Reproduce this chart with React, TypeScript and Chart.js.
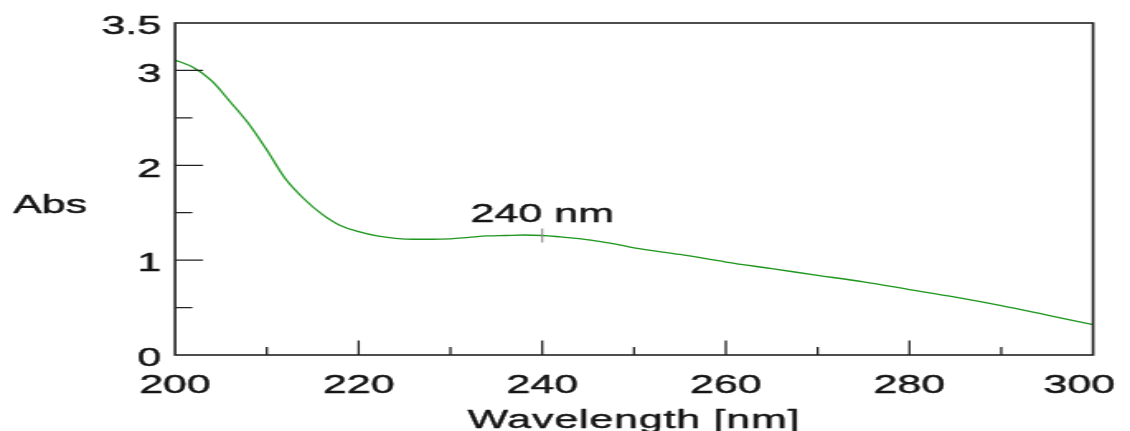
import React, { useEffect, useRef } from 'react';
import { Chart, registerables } from 'chart.js';

Chart.register(...registerables);

// ---- data ----
const wavelengths = [
  200, 202, 204, 206, 208, 210, 212, 214, 216, 218, 220, 222, 224, 226, 228, 230,
  232, 234, 236, 238, 240, 242, 244, 246, 248, 250, 255, 260, 265, 270, 275, 280,
  285, 290, 295, 300,
];
const absorbance = [
  3.11, 3.03, 2.89, 2.67, 2.44, 2.16, 1.86, 1.65, 1.485, 1.365, 1.3, 1.255, 1.23, 1.22, 1.22, 1.225,
  1.24, 1.255, 1.26, 1.265, 1.26, 1.245, 1.228, 1.2, 1.17, 1.13, 1.06, 0.98, 0.91, 0.84, 0.77, 0.69,
  0.61, 0.52, 0.42, 0.32,
];
const xTickLabels = [200, 220, 240, 260, 280, 300];
const xMinorTicks = [210, 230, 250, 270, 290];
const yTickLabels = [0, 1, 2, 3, 3.5];
const yMajorTicks = [1, 2, 3];
const yMinorTicks = [0.5, 1.5, 2.5];
const peakWavelength = 240;
const peakLabel = '240 nm';
const xTitle = 'Wavelength [nm]';
const yTitle = 'Abs';

// internal drawing size; canvas is stretched horizontally to 1130px like the reference
const W = 685;
const H = 431;
const CSS_W = 1130;

const FONT = '26px "Liberation Sans", Arial, sans-serif';
const INK = '#151515';

function drawText(ctx: CanvasRenderingContext2D, t: string, x: number, y: number) {
  ctx.strokeText(t, x, y);
  ctx.fillText(t, x, y);
}

const framePlugin = {
  id: 'frameAndLabels',
  afterDraw(chart: any) {
    const ctx = chart.ctx as CanvasRenderingContext2D;
    const { left, right, top, bottom } = chart.chartArea;
    const xs = chart.scales.x;
    const ys = chart.scales.y;
    ctx.save();

    // frame
    ctx.strokeStyle = '#222';
    ctx.lineWidth = 1.6;
    ctx.strokeRect(left, top, right - left, bottom - top);

    // inward ticks
    ctx.lineWidth = 1.3;
    ctx.beginPath();
    yMajorTicks.forEach((v) => {
      const py = ys.getPixelForValue(v);
      ctx.moveTo(left, py);
      ctx.lineTo(left + 17, py);
    });
    yMinorTicks.forEach((v) => {
      const py = ys.getPixelForValue(v);
      ctx.moveTo(left, py);
      ctx.lineTo(left + 10.5, py);
    });
    xTickLabels.forEach((v) => {
      if (v === xs.min || v === xs.max) return;
      const px = xs.getPixelForValue(v);
      ctx.moveTo(px, bottom);
      ctx.lineTo(px, bottom - 14.5);
    });
    xMinorTicks.forEach((v) => {
      const px = xs.getPixelForValue(v);
      ctx.moveTo(px, bottom);
      ctx.lineTo(px, bottom - 8);
    });
    ctx.stroke();

    // tick labels
    ctx.font = FONT;
    ctx.fillStyle = INK;
    ctx.strokeStyle = INK;
    ctx.lineWidth = 0.45;
    ctx.lineJoin = 'round';
    ctx.textBaseline = 'alphabetic';
    ctx.textAlign = 'right';
    yTickLabels.forEach((v) => {
      const py = ys.getPixelForValue(v);
      drawText(ctx, String(v), left - 8.5, py + 11.3);
    });
    ctx.textAlign = 'center';
    xTickLabels.forEach((v) => {
      const t = String(v);
      const w = ctx.measureText(t).width;
      let px = xs.getPixelForValue(v);
      px = Math.min(px, W - 9 - w / 2);
      drawText(ctx, t, px, bottom + 38);
    });

    // axis titles
    (ctx as any).letterSpacing = '0.5px';
    drawText(ctx, xTitle, (left + right) / 2, bottom + 73);
    (ctx as any).letterSpacing = '0px';
    ctx.textAlign = 'left';
    drawText(ctx, yTitle, 8, 213);

    // peak marker
    const idx = wavelengths.indexOf(peakWavelength);
    const pX = xs.getPixelForValue(peakWavelength);
    const pY = ys.getPixelForValue(absorbance[idx]);
    ctx.strokeStyle = '#8a8a8a';
    ctx.lineWidth = 1.1;
    ctx.beginPath();
    ctx.moveTo(pX, pY - 7);
    ctx.lineTo(pX, pY + 7);
    ctx.stroke();
    ctx.textAlign = 'center';
    ctx.fillStyle = INK;
    ctx.strokeStyle = INK;
    ctx.lineWidth = 0.45;
    drawText(ctx, peakLabel, pX, pY - 13);

    ctx.restore();
  },
};

export default function App() {
  const ref = useRef<HTMLCanvasElement | null>(null);

  useEffect(() => {
    document.body.style.margin = '0';
    const canvas = ref.current;
    if (!canvas) return;
    const chart = new Chart(canvas, {
      type: 'line',
      data: {
        datasets: [
          {
            data: wavelengths.map((x, i) => ({ x, y: absorbance[i] })),
            borderColor: 'rgb(30,150,30)',
            borderWidth: 1.3,
            pointRadius: 0,
            cubicInterpolationMode: 'monotone',
            fill: false,
          },
        ],
      },
      options: {
        responsive: false,
        animation: false,
        devicePixelRatio: 1,
        layout: { padding: { top: 23, right: 22.4, left: 0, bottom: 0 } },
        plugins: { legend: { display: false }, tooltip: { enabled: false } },
        scales: {
          x: {
            type: 'linear',
            min: 200,
            max: 300,
            ticks: { display: false },
            grid: { display: false, drawTicks: false },
            border: { display: false },
            afterFit: (s: any) => {
              s.height = H - 355;
            },
          },
          y: {
            type: 'linear',
            min: 0,
            max: 3.5,
            ticks: { display: false },
            grid: { display: false, drawTicks: false },
            border: { display: false },
            afterFit: (s: any) => {
              s.width = 106.1;
            },
          },
        },
      },
      plugins: [framePlugin],
    } as any);
    return () => chart.destroy();
  }, []);

  return (
    <canvas
      ref={ref}
      width={W}
      height={H}
      style={{ display: 'block', width: CSS_W + 'px', height: H + 'px' }}
    />
  );
}
